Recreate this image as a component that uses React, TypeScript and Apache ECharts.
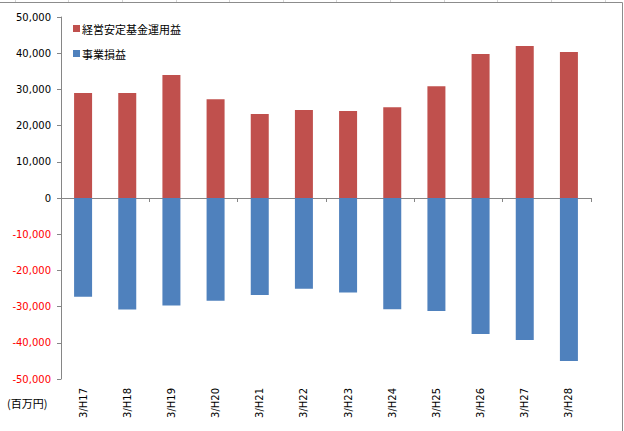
import React, { useEffect, useRef } from "react";
import * as echarts from "echarts";

const categories = ["3/H17", "3/H18", "3/H19", "3/H20", "3/H21", "3/H22", "3/H23", "3/H24", "3/H25", "3/H26", "3/H27", "3/H28"];
const fundIncome = [29000, 29000, 34000, 27300, 23200, 24300, 24000, 25100, 30900, 39800, 42000, 40300];
const operatingLoss = [-27300, -30800, -29700, -28400, -26800, -25100, -26100, -30700, -31200, -37600, -39200, -45000];
const seriesNames = ["経営安定基金運用益", "事業損益"];
const unitLabel = "(百万円)";

export default function App() {
  const ref = useRef<HTMLDivElement>(null);
  useEffect(() => {
    document.body.style.margin = "0";
    const chart = echarts.init(ref.current!, null, { renderer: "svg" });
    const numFont = "DejaVu Sans";
    const cjkFont = "Noto Sans CJK JP";
    const gridLines = [15, 68, 122, 176, 229, 283, 336, 390, 444, 497, 551, 605].map((x) => ({
      type: "line",
      shape: { x1: x + 0.5, y1: 0, x2: x + 0.5, y2: 2 },
      style: { stroke: "#d4d4d4", lineWidth: 1 },
      silent: true,
    }));
    chart.setOption({
      animation: false,
      backgroundColor: "#ffffff",
      textStyle: { fontFamily: numFont },
      grid: { left: 61, right: 33, top: 17, bottom: 52, containLabel: false },
      legend: {
        orient: "vertical",
        left: 73,
        top: 22,
        padding: 0,
        itemWidth: 7,
        itemHeight: 7,
        itemGap: 12,
        icon: "rect",
        data: seriesNames,
        textStyle: { fontFamily: cjkFont, fontSize: 11, lineHeight: 13, color: "#000", padding: [0, 0, 0, -3] },
      },
      xAxis: [
        {
          type: "category",
          data: categories,
          axisLine: { onZero: true, lineStyle: { color: "#868686", width: 1 } },
          axisTick: { show: true, length: 4, lineStyle: { color: "#868686" } },
          axisLabel: { show: false },
          splitLine: { show: false },
        },
        {
          type: "category",
          data: categories,
          position: "bottom",
          axisLine: { show: false, onZero: false },
          axisTick: { show: false },
          axisLabel: {
            show: true,
            rotate: 90,
            margin: 9,
            fontSize: 10,
            fontFamily: numFont,
            color: "#000",
          },
          splitLine: { show: false },
        },
      ],
      yAxis: {
        type: "value",
        min: -50000,
        max: 50000,
        interval: 10000,
        axisLine: { show: true, lineStyle: { color: "#868686", width: 1 } },
        axisTick: { show: true, length: 4, lineStyle: { color: "#868686" } },
        splitLine: { show: false },
        axisLabel: {
          margin: 10,
          fontSize: 10,
          fontFamily: numFont,
          color: (v: any) => (Number(v) < 0 ? "#ff0000" : "#000000"),
          formatter: (v: number) => v.toLocaleString("en-US"),
        },
      },
      series: [
        {
          name: seriesNames[0],
          type: "bar",
          xAxisIndex: 0,
          stack: "total",
          barWidth: 18,
          data: fundIncome,
          itemStyle: { color: "#C0504D" },
        },
        {
          name: seriesNames[1],
          type: "bar",
          xAxisIndex: 0,
          stack: "total",
          barWidth: 18,
          data: operatingLoss,
          itemStyle: { color: "#4F81BD" },
        },
      ],
      graphic: [
        ...gridLines,
        {
          type: "line",
          shape: { x1: 0, y1: 2.5, x2: 622.5, y2: 2.5 },
          style: { stroke: "#8c8c8c", lineWidth: 1 },
          silent: true,
        },
        {
          type: "line",
          shape: { x1: 622.5, y1: 2.5, x2: 622.5, y2: 431 },
          style: { stroke: "#8c8c8c", lineWidth: 1 },
          silent: true,
        },
        {
          type: "text",
          x: 7,
          y: 403,
          style: {
            text: unitLabel,
            fontFamily: cjkFont,
            fontSize: 11,
            fill: "#000",
            verticalAlign: "middle",
          },
          silent: true,
        },
      ],
    });
    return () => chart.dispose();
  }, []);
  return <div ref={ref} style={{ width: 624, height: 431 }} />;
}
